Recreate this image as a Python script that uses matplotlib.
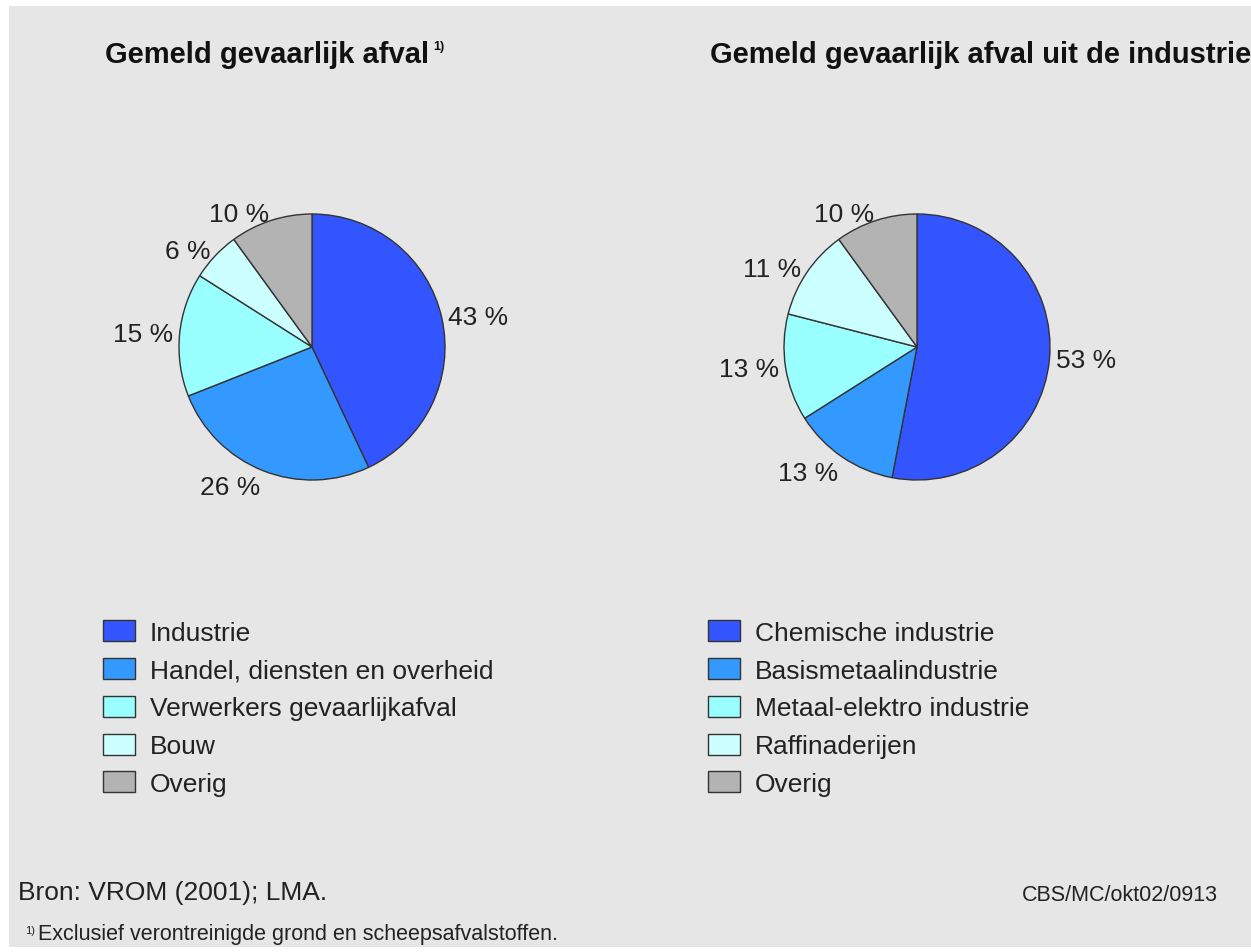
import matplotlib.pyplot as plt
from matplotlib.patches import Rectangle

plt.rcParams['font.family'] = ['Liberation Sans', 'DejaVu Sans']

# data
left_title = "Gemeld gevaarlijk afval"
left_labels = ["Industrie", "Handel, diensten en overheid", "Verwerkers gevaarlijkafval",
               "Bouw", "Overig"]
left_values = [43, 26, 15, 6, 10]

right_title = "Gemeld gevaarlijk afval uit de industrie"
right_labels = ["Chemische industrie", "Basismetaalindustrie", "Metaal-elektro industrie",
                "Raffinaderijen", "Overig"]
right_values = [53, 13, 13, 11, 10]

colors = ["#3355ff", "#3399ff", "#99ffff", "#ccffff", "#b3b3b3"]
bg = "#e6e6e6"
W, H = 1251, 953

fig = plt.figure(figsize=(W / 100, H / 100), dpi=100)
fig.patch.set_facecolor("white")
fig.add_artist(Rectangle((9 / W, 5 / H), 1 - 9 / W, (H - 12) / H, transform=fig.transFigure,
                         facecolor=bg, edgecolor="none", zorder=-10))


def draw_pie(cx, cy, values, labels, title, title_x, legend_x):
    r = 133
    half = r * 1.3
    ax = fig.add_axes([(cx - half) / W, 1 - (cy + half) / H, 2 * half / W, 2 * half / H])
    wedges, texts = ax.pie(values, labels=[f"{v} %" for v in values], colors=colors,
                           startangle=90, counterclock=False, labeldistance=1.05,
                           wedgeprops=dict(edgecolor="#333333", linewidth=1),
                           textprops=dict(fontsize=19, color="#222222"))
    # labels under the pie sit a little lower in the original
    for t in texts:
        x, y = t.get_position()
        if y < -0.5:
            t.set_position((x, y - 0.08))
    ax.set_xlim(-1.3, 1.3)
    ax.set_ylim(-1.3, 1.3)
    ax.set_aspect("equal")
    ax.axis("off")
    fig.text(title_x / W, 1 - 55 / H, title, fontsize=21, fontweight="bold",
             color="#111111", va="center", ha="left")
    fig.legend(wedges, labels, loc="upper left", bbox_to_anchor=(legend_x / W, 1 - 621 / H),
               frameon=False, fontsize=19, handlelength=1.21, handleheight=0.85,
               handletextpad=0.57, labelspacing=0.5, borderpad=0, borderaxespad=0,
               labelcolor="#222222")


draw_pie(312, 348, left_values, left_labels, left_title, 105, 103)
draw_pie(917, 348, right_values, right_labels, right_title, 710, 708)
fig.text(433 / W, 1 - 47 / H, "1)", fontsize=9, fontweight="bold", color="#111111",
         va="center", ha="left")

fig.text(18 / W, 1 - 893 / H, "Bron: VROM (2001); LMA.", fontsize=19, color="#222222",
         va="center", ha="left")
fig.text(1218 / W, 1 - 896 / H, "CBS/MC/okt02/0913", fontsize=15.5, color="#222222",
         va="center", ha="right")
fig.text(25 / W, 1 - 931 / H, "1)", fontsize=8, color="#222222", va="center", ha="left")
fig.text(38 / W, 1 - 935 / H, "Exclusief verontreinigde grond en scheepsafvalstoffen.",
         fontsize=15.5, color="#222222", va="center", ha="left")

fig.savefig("out.png", dpi=100, facecolor=fig.get_facecolor())
